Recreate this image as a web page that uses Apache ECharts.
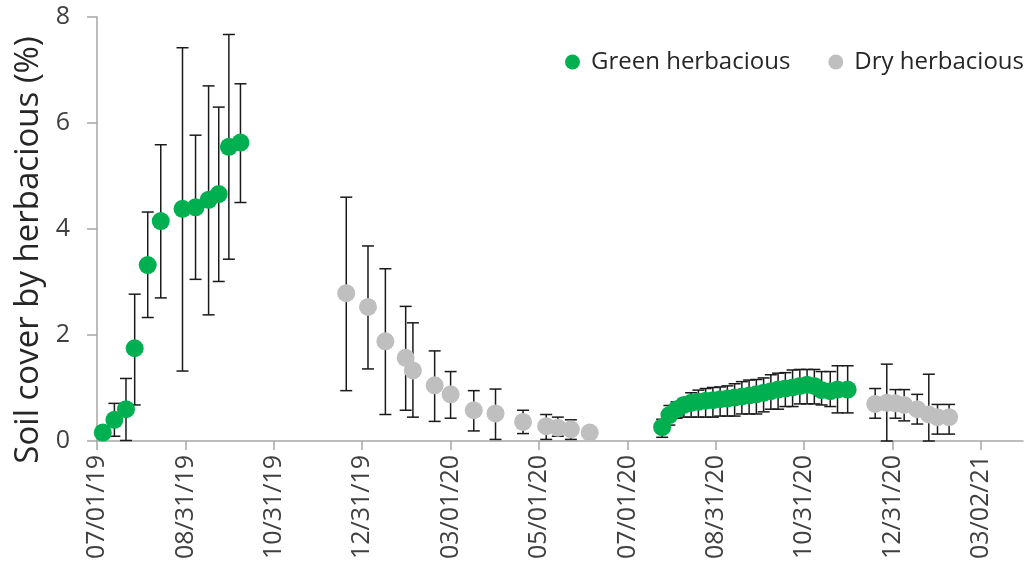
<!DOCTYPE html>
<html>
<head>
<meta charset="utf-8">
<script src="https://cdn.jsdelivr.net/npm/echarts@6/dist/echarts.min.js"></script>
<style>html,body{margin:0;padding:0;background:#fff;}#chart{width:1033px;height:567px;}</style>
</head>
<body>
<div id="chart"></div>
<script>
// ---- data ----
const xTickDates = ['2019-07-01','2019-08-31','2019-10-31','2019-12-31','2020-03-01','2020-05-01','2020-07-01','2020-08-31','2020-10-31','2020-12-31','2021-03-02'];
const xTickLabels = ['07/01/19','08/31/19','10/31/19','12/31/19','03/01/20','05/01/20','07/01/20','08/31/20','10/31/20','12/31/20','03/02/21'];
const xMinDate = '2019-07-01';
const xMaxDate = '2021-03-31';

const greenDates = ['2019-07-05','2019-07-13','2019-07-21','2019-07-27','2019-08-05','2019-08-14','2019-08-29','2019-09-07','2019-09-16','2019-09-23','2019-09-30','2019-10-08',
  '2020-07-25','2020-07-30','2020-08-04','2020-08-09','2020-08-14','2020-08-19','2020-08-24','2020-08-29','2020-09-03','2020-09-08','2020-09-13','2020-09-18','2020-09-23','2020-09-28','2020-10-03','2020-10-08','2020-10-13','2020-10-18','2020-10-23','2020-10-28','2020-11-02','2020-11-07','2020-11-12','2020-11-18','2020-11-23','2020-11-30'];
const greenMean = [0.16,0.40,0.60,1.75,3.32,4.15,4.38,4.41,4.55,4.66,5.55,5.63,
  0.26,0.49,0.60,0.68,0.72,0.74,0.76,0.77,0.79,0.80,0.82,0.84,0.86,0.88,0.91,0.94,0.97,0.99,1.01,1.04,1.06,1.04,0.96,0.94,0.97,0.97];
const greenLow = [0.05,0.09,0.01,0.68,2.33,2.70,1.32,3.05,2.38,3.01,3.43,4.50,
  0.07,0.30,0.43,0.45,0.45,0.45,0.45,0.45,0.47,0.47,0.47,0.51,0.51,0.51,0.55,0.60,0.60,0.65,0.65,0.70,0.70,0.70,0.68,0.65,0.53,0.53];
const greenHigh = [0.27,0.71,1.18,2.77,4.32,5.59,7.42,5.77,6.70,6.30,7.67,6.74,
  0.41,0.67,0.74,0.80,0.91,0.96,0.99,1.01,1.02,1.04,1.08,1.12,1.15,1.16,1.19,1.25,1.28,1.29,1.34,1.35,1.35,1.35,1.31,1.31,1.42,1.42];

const dryDates = ['2019-12-20','2020-01-04','2020-01-16','2020-01-30','2020-02-04','2020-02-19','2020-03-01','2020-03-17','2020-04-01','2020-04-20','2020-05-06','2020-05-14','2020-05-23','2020-06-05',
  '2020-12-19','2020-12-27','2021-01-02','2021-01-08','2021-01-17','2021-01-25','2021-01-31','2021-02-08'];
const dryMean = [2.79,2.53,1.88,1.57,1.33,1.05,0.88,0.58,0.52,0.36,0.28,0.25,0.22,0.16,
  0.70,0.72,0.71,0.68,0.60,0.50,0.45,0.45];
const dryLow = [0.95,1.36,0.50,0.58,0.45,0.37,0.43,0.19,0.03,0.14,0.03,0.09,0.03,0.08,
  0.43,0.00,0.43,0.38,0.32,0.00,0.13,0.13];
const dryHigh = [4.60,3.68,3.25,2.54,2.23,1.70,1.31,0.95,0.98,0.58,0.50,0.45,0.40,0.24,
  0.99,1.45,0.97,0.97,0.88,1.26,0.69,0.69];

// ---- build ----
const ts = s => Date.parse(s + 'T00:00:00Z');
const tickVals = xTickDates.map(ts);
const labelMap = {};
tickVals.forEach((v, i) => { labelMap[v] = xTickLabels[i]; });

const pts = (d, m) => d.map((s, i) => [ts(s), m[i]]);
const bars = (d, lo, hi) => d.map((s, i) => [ts(s), lo[i], hi[i]]);

const FONT = 'Open Sans';
const AXIS_COLOR = '#A6A6A6';
const TEXT_COLOR = '#404040';
const GREEN = '#00B050';
const GREY = '#BFBFBF';

function errRender(params, api) {
  const x = api.value(0);
  const pHi = api.coord([x, api.value(2)]);
  const pLo = api.coord([x, api.value(1)]);
  const hw = 6;
  const st = { stroke: '#1a1a1a', lineWidth: 1.5 };
  return {
    type: 'group',
    children: [
      { type: 'line', shape: { x1: pHi[0], y1: pHi[1], x2: pLo[0], y2: pLo[1] }, style: st },
      { type: 'line', shape: { x1: pHi[0] - hw, y1: pHi[1], x2: pHi[0] + hw, y2: pHi[1] }, style: st },
      { type: 'line', shape: { x1: pLo[0] - hw, y1: pLo[1], x2: pLo[0] + hw, y2: pLo[1] }, style: st }
    ]
  };
}

const chart = echarts.init(document.getElementById('chart'), null, { renderer: 'canvas' });
chart.setOption({
  animation: false,
  backgroundColor: '#fff',
  textStyle: { fontFamily: FONT },
  grid: { left: 97, right: 10, top: 17, bottom: 126 },
  legend: {
    data: ['Green herbacious', 'Dry herbacious'],
    right: 4, top: 45,
    icon: 'circle', itemWidth: 15, itemHeight: 15, itemGap: 38,
    textStyle: { fontFamily: FONT, fontSize: 24, color: '#262626', padding: [0, 0, 0, 6] }
  },
  xAxis: {
    type: 'value',
    min: ts(xMinDate), max: ts(xMaxDate),
    splitLine: { show: false },
    axisLine: { show: true, lineStyle: { color: AXIS_COLOR, width: 1.5 } },
    axisTick: { show: true, inside: false, length: 9, customValues: tickVals, lineStyle: { color: AXIS_COLOR, width: 1.5 } },
    axisLabel: {
      customValues: tickVals, rotate: 90, margin: 14,
      fontFamily: FONT, fontSize: 25, color: TEXT_COLOR,
      formatter: v => labelMap[v] || ''
    }
  },
  yAxis: {
    type: 'value', min: 0, max: 8, interval: 2,
    name: 'Soil cover by herbacious (%)',
    nameLocation: 'middle', nameGap: 50,
    nameTextStyle: { fontFamily: FONT, fontSize: 33, color: '#262626', padding: [0, 42, 0, 0] },
    splitLine: { show: false },
    axisLine: { show: true, lineStyle: { color: AXIS_COLOR, width: 1.5 } },
    axisTick: { show: true, inside: false, length: 10, lineStyle: { color: AXIS_COLOR, width: 1.5 } },
    axisLabel: { margin: 27, fontFamily: FONT, fontSize: 25, color: TEXT_COLOR }
  },
  series: [
    { type: 'custom', name: 'greenErr', renderItem: errRender, encode: { x: 0, y: [1, 2] }, data: bars(greenDates, greenLow, greenHigh), z: 2, silent: true },
    { type: 'scatter', name: 'Green herbacious', data: pts(greenDates, greenMean), symbol: 'circle', symbolSize: 18, itemStyle: { color: GREEN, opacity: 1 }, z: 3 },
    { type: 'custom', name: 'dryErr', renderItem: errRender, encode: { x: 0, y: [1, 2] }, data: bars(dryDates, dryLow, dryHigh), z: 4, silent: true },
    { type: 'scatter', name: 'Dry herbacious', data: pts(dryDates, dryMean), symbol: 'circle', symbolSize: 18, itemStyle: { color: GREY, opacity: 1 }, z: 5 }
  ]
});
</script>
</body>
</html>
